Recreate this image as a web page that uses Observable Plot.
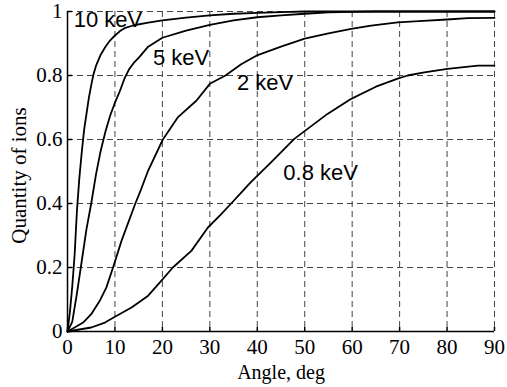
<!DOCTYPE html>
<html>
<head>
<meta charset="utf-8">
<script src="https://cdn.jsdelivr.net/npm/d3@7"></script>
<script src="https://cdn.jsdelivr.net/npm/@observablehq/plot@0.6"></script>
<style>
  html, body { margin: 0; padding: 0; background: #fff; }
  #chart { width: 507px; height: 387px; }
</style>
</head>
<body>
<div id="chart"></div>
<script>
// ---- data ----
const angle10 = [0, 0.5, 1, 1.5, 2, 2.5, 3, 3.5, 4, 4.5, 5, 5.5, 6, 7, 8, 9, 10, 11, 12, 14, 17, 20, 25, 30, 35, 40, 45, 50, 90];
const qty10   = [0, 0.06, 0.14, 0.24, 0.38, 0.48, 0.56, 0.63, 0.68, 0.73, 0.77, 0.805, 0.83, 0.865, 0.89, 0.91, 0.925, 0.938, 0.948, 0.957, 0.965, 0.972, 0.981, 0.988, 0.993, 0.996, 0.998, 1, 1];

const angle5 = [0, 1, 2, 3, 4, 5, 6, 7, 8, 9, 10, 11, 12, 13, 14, 15, 17, 20, 25, 30, 35, 40, 45, 50, 55, 60, 65, 90];
const qty5   = [0, 0.03, 0.12, 0.22, 0.32, 0.4, 0.49, 0.565, 0.625, 0.675, 0.715, 0.75, 0.79, 0.82, 0.84, 0.855, 0.89, 0.918, 0.94, 0.958, 0.972, 0.982, 0.988, 0.993, 0.997, 0.999, 1, 1];

const angle2 = [0, 1.5, 3.3, 5, 6.8, 8.2, 9.6, 11.4, 14.3, 15.4, 17, 20.1, 23.3, 27.2, 30, 33.3, 36.6, 39.8, 45, 50, 55, 59.8, 64, 69.6, 75, 80, 84.4, 90];
const qty2   = [0, 0.0125, 0.028, 0.054, 0.096, 0.138, 0.2, 0.284, 0.4, 0.44, 0.503, 0.6, 0.67, 0.722, 0.774, 0.8, 0.835, 0.862, 0.89, 0.915, 0.932, 0.946, 0.956, 0.966, 0.971, 0.975, 0.979, 0.98];

const angle08 = [0, 5, 7.9, 10, 13.5, 17, 19.8, 22.2, 26.1, 29.6, 32.4, 34.5, 37, 38.6, 43, 47.8, 54.8, 59.8, 65, 69.6, 71.7, 75.2, 80.1, 86.5, 90];
const qty08   = [0, 0.0125, 0.028, 0.046, 0.075, 0.112, 0.159, 0.2, 0.252, 0.325, 0.367, 0.4, 0.44, 0.466, 0.53, 0.602, 0.68, 0.727, 0.765, 0.79, 0.8, 0.81, 0.821, 0.831, 0.831];

const seriesNames = ["10 keV", "5 keV", "2 keV", "0.8 keV"];
const labelAngle = [1.3, 18, 35.7, 45.5];
const labelQty   = [0.973, 0.855, 0.776, 0.496];

const xTicks = [0, 10, 20, 30, 40, 50, 60, 70, 80, 90];
const yTicks = [0, 0.2, 0.4, 0.6, 0.8, 1];
const xTitle = "Angle, deg";
const yTitle = "Quantity of ions";

// ---- build tables ----
const series = [[angle10, qty10], [angle5, qty5], [angle2, qty2], [angle08, qty08]];
const rows = series.flatMap(([a, q], s) => a.map((v, i) => ({series: seriesNames[s], angle: v, qty: q[i]})));
const labels = seriesNames.map((n, i) => ({name: n, angle: labelAngle[i], qty: labelQty[i]}));

const serif = "'Liberation Serif', 'Times New Roman', serif";
const sans = "'Liberation Sans', Arial, sans-serif";
const gridStyle = {stroke: "#444", strokeOpacity: 1, strokeWidth: 1, strokeDasharray: "6,4"};

const chart = Plot.plot({
  width: 507,
  height: 387,
  marginLeft: 67,
  marginRight: 13,
  marginTop: 11,
  marginBottom: 56,
  style: {fontFamily: serif, fontSize: "21px", background: "#fff", color: "#000"},
  x: {domain: [0, 90]},
  y: {domain: [0, 1]},
  marks: [
    Plot.gridX(xTicks.filter(d => d > 0), gridStyle),
    Plot.gridY(yTicks.filter(d => d > 0), gridStyle),
    Plot.line(rows, {x: "angle", y: "qty", z: "series", stroke: "#000", strokeWidth: 1.8, curve: "linear"}),
    Plot.axisX(xTicks, {tickSize: -4, tickFormat: () => "", strokeWidth: 1.5, label: null}),
    Plot.axisY(yTicks, {tickSize: -5, tickFormat: () => "", strokeWidth: 1.5, label: null}),
    Plot.axisX(xTicks, {tickSize: 0, tickPadding: 8, fontSize: 21, fontFamily: serif, label: null}),
    Plot.axisY(yTicks, {tickSize: 0, tickPadding: 5, fontSize: 21, fontFamily: serif, label: null, tickFormat: d => String(d)}),
    Plot.ruleX([0], {stroke: "#000", strokeWidth: 1.5}),
    Plot.ruleY([0], {stroke: "#000", strokeWidth: 1.5}),
    Plot.text(labels, {x: "angle", y: "qty", text: "name", textAnchor: "start", lineAnchor: "middle", fontSize: 22, fontFamily: sans, fill: "#000"}),
    Plot.text([xTitle], {frameAnchor: "bottom", dy: 41, textAnchor: "middle", lineAnchor: "middle", fontSize: 20, fontFamily: serif, fill: "#000"}),
    Plot.text([yTitle], {frameAnchor: "left", dx: -48, dy: 4, rotate: -90, textAnchor: "middle", lineAnchor: "middle", fontSize: 21, fontFamily: serif, fill: "#000"})
  ]
});
document.getElementById("chart").appendChild(chart);
</script>
</body>
</html>
